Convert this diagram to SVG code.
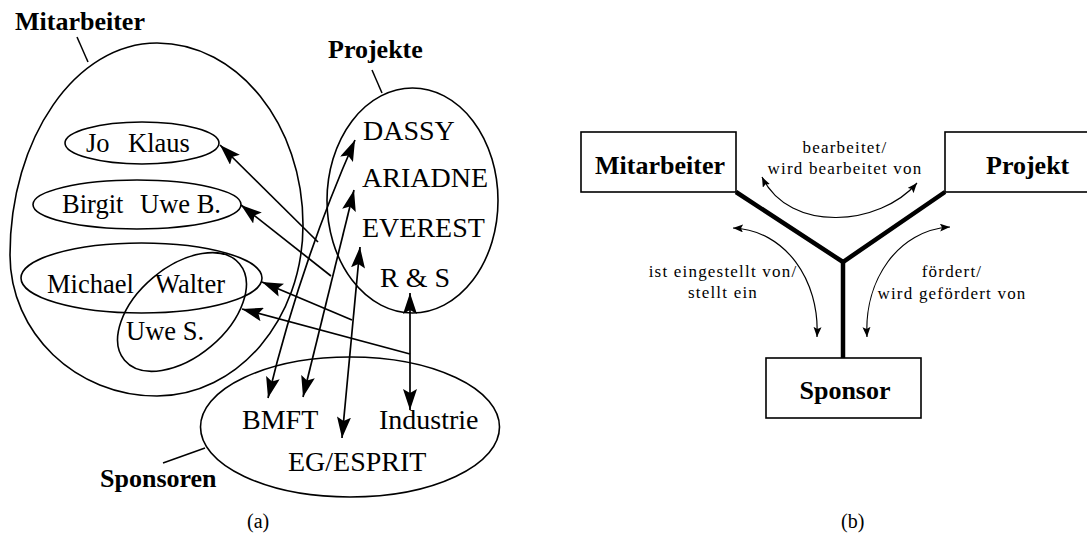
<svg xmlns="http://www.w3.org/2000/svg" width="1087" height="537" viewBox="0 0 1087 537">
  <style>
    .set { fill: none; stroke: #000; stroke-width: 1.6; }
    .lead { fill: none; stroke: #000; stroke-width: 1.5; }
    .rel { fill: none; stroke: #000; stroke-width: 1.7; }
    .nm { font-family: "Liberation Serif", "Times New Roman", serif; font-size: 26.5px; fill: #000; }
    .it { font-family: "Liberation Serif", "Times New Roman", serif; font-size: 28px; fill: #000; }
    .ttl { font-family: "Liberation Serif", "Times New Roman", serif; font-size: 26px; font-weight: bold; fill: #000; }
    .cap { font-family: "Liberation Serif", "Times New Roman", serif; font-size: 20px; fill: #000; }
    .box { fill: #fff; stroke: #000; stroke-width: 1.6; }
    .bar { fill: none; stroke: #000; stroke-width: 4.5; stroke-linejoin: miter; }
    .arc { fill: none; stroke: #000; stroke-width: 1.2; }
    .rl { font-family: "Liberation Serif", "Times New Roman", serif; font-size: 17px; letter-spacing: 1.2px; fill: #000; text-anchor: middle; }
  </style>
  <defs>
    <marker id="head" viewBox="0 0 21 14" refX="21" refY="7" markerWidth="21" markerHeight="14" markerUnits="userSpaceOnUse" orient="auto-start-reverse">
      <path d="M0,0 L21,7 L0,14 L4,7 z" fill="#000"/>
    </marker>
    <marker id="tip" viewBox="0 0 10 8" refX="10" refY="4" markerWidth="10" markerHeight="8" markerUnits="userSpaceOnUse" orient="auto-start-reverse">
      <path d="M0,0 L10,4 L0,8 L2,4 z" fill="#000"/>
    </marker>
  </defs>

  <!-- (a) set diagram -->
  <g id="mitarbeiter-set">
    <path class="set" d="M157,43 C237.6,43 303,124.5 303,225 C303,319.4 237.6,396 157,396 C75.8,396 10,332.9 10,255 C10,137.9 75.8,43 157,43 Z"/>
    <line class="lead" x1="77" y1="37" x2="88" y2="62"/>
    <text class="ttl" x="15" y="30">Mitarbeiter</text>
  </g>
  <g id="jo-klaus">
    <ellipse class="set" cx="142" cy="143" rx="77" ry="21"/>
    <text class="nm" x="86" y="152">Jo</text>
    <text class="nm" x="128" y="152">Klaus</text>
  </g>
  <g id="birgit-uwe">
    <ellipse class="set" cx="137" cy="204.5" rx="104" ry="24.5"/>
    <text class="nm" x="62" y="213">Birgit</text>
    <text class="nm" x="140" y="213">Uwe B.</text>
  </g>
  <g id="michael-walter">
    <ellipse class="set" cx="141.5" cy="278" rx="120.5" ry="35"/>
    <text class="nm" x="47" y="293">Michael</text>
    <text class="nm" x="155" y="293">Walter</text>
  </g>
  <g id="uwe-s">
    <ellipse class="set" cx="182" cy="312" rx="75" ry="45" transform="rotate(-40 182 312)"/>
    <text class="nm" x="126" y="340">Uwe S.</text>
  </g>
  <g id="projekte-set">
    <ellipse class="set" cx="412.5" cy="200.5" rx="85.5" ry="112.5"/>
    <line class="lead" x1="372" y1="70" x2="382" y2="93"/>
    <text class="ttl" x="328" y="58">Projekte</text>
    <text class="it" x="363" y="140">DASSY</text>
    <text class="it" x="362" y="187">ARIADNE</text>
    <text class="it" x="362" y="237">EVEREST</text>
    <text class="it" x="380" y="287" xml:space="preserve">R &amp; S</text>
  </g>
  <g id="sponsoren-set">
    <ellipse class="set" cx="350" cy="427" rx="149.5" ry="70"/>
    <line class="lead" x1="163" y1="463" x2="205" y2="448"/>
    <text class="ttl" x="100" y="487">Sponsoren</text>
    <text class="it" x="242" y="429">BMFT</text>
    <text class="it" x="379" y="429">Industrie</text>
    <text class="it" x="288" y="471">EG/ESPRIT</text>
  </g>
  <g id="relations-a">
    <path class="rel" d="M318,242 L220,145" marker-end="url(#head)"/>
    <path class="rel" d="M331,276 L241,205" marker-end="url(#head)"/>
    <path class="rel" d="M352,320 L262,282" marker-end="url(#head)"/>
    <path class="rel" d="M410,354 L242,309" marker-end="url(#head)"/>
    <path class="rel" d="M268,398 Q300,265 355,140" marker-start="url(#head)" marker-end="url(#head)"/>
    <path class="rel" d="M303,397 L354,190" marker-start="url(#head)" marker-end="url(#head)"/>
    <path class="rel" d="M342,438 L360,247" marker-start="url(#head)" marker-end="url(#head)"/>
    <path class="rel" d="M410,410 L410,293" marker-start="url(#head)" marker-end="url(#head)"/>
  </g>
  <text class="cap" x="247" y="528">(a)</text>

  <!-- (b) entity diagram -->
  <g id="links-b">
    <path class="bar" d="M736,192 L843,262 L945,192"/>
    <path class="bar" d="M843,260 L843,358"/>
    <path class="arc" d="M762,177 C790,234 880,226 917,183" marker-start="url(#tip)" marker-end="url(#tip)"/>
    <path class="arc" d="M733,228 C785,230 820,280 817,337" marker-start="url(#tip)" marker-end="url(#tip)"/>
    <path class="arc" d="M950,227 C898,230 864,280 867,337" marker-start="url(#tip)" marker-end="url(#tip)"/>
    <text class="rl" x="845" y="153">bearbeitet/</text>
    <text class="rl" x="845" y="174">wird bearbeitet von</text>
    <text class="rl" x="723" y="277">ist eingestellt von/</text>
    <text class="rl" x="723" y="298">stellt ein</text>
    <text class="rl" x="952" y="277">fördert/</text>
    <text class="rl" x="952" y="299">wird gefördert von</text>
  </g>
  <g id="box-mitarbeiter">
    <rect class="box" x="581" y="132" width="155" height="60"/>
    <text class="ttl" x="660" y="174" text-anchor="middle">Mitarbeiter</text>
  </g>
  <g id="box-projekt">
    <rect class="box" x="945" y="132" width="160" height="60"/>
    <text class="ttl" x="986" y="174">Projekt</text>
  </g>
  <g id="box-sponsor">
    <rect class="box" x="766" y="358" width="155" height="60"/>
    <text class="ttl" x="845" y="399" text-anchor="middle">Sponsor</text>
  </g>
  <text class="cap" x="841" y="528">(b)</text>
</svg>
